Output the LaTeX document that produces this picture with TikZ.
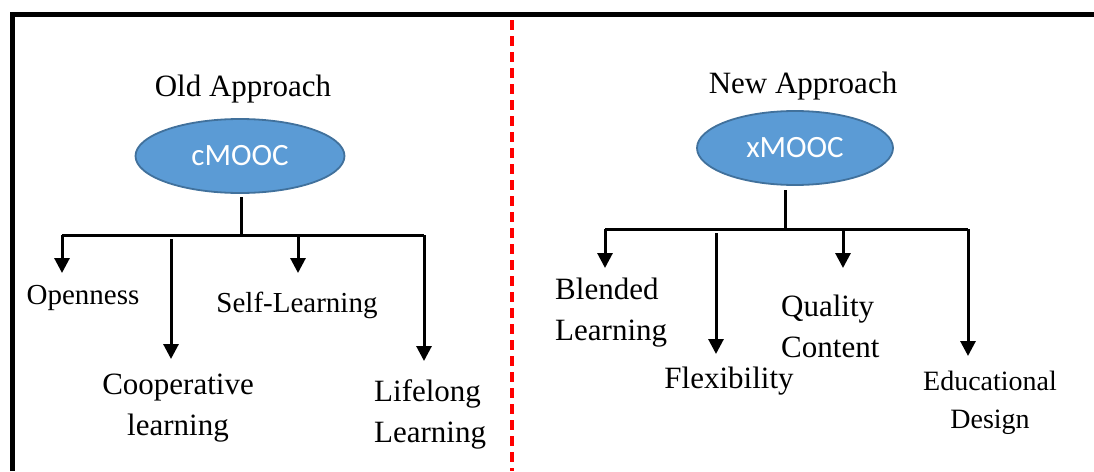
\documentclass[tikz,border=0pt]{standalone}
\usepackage{fontspec}
\setmainfont{Liberation Serif}
\newfontfamily\calibrifont{Carlito}
\usetikzlibrary{arrows.meta,shapes.geometric}
\definecolor{ellfill}{HTML}{5B9BD5}
\definecolor{elldraw}{HTML}{41719C}
\tikzset{
  mooc/.style={ellipse, fill=ellfill, draw=elldraw, line width=1.8pt, inner sep=0pt,
    text=white, font=\calibrifont\fontsize{31}{33}\selectfont},
  lbl/.style={inner sep=0pt, font=\fontsize{31}{41}\selectfont},
  lblsmall/.style={inner sep=0pt, font=\fontsize{29}{38}\selectfont},
  conn/.style={line width=3pt},
  arr/.style={line width=3pt, -{Triangle[length=15pt,width=15pt]}},
}
\begin{document}
\begin{tikzpicture}[x=1pt,y=-1pt]
\useasboundingbox (0,0) rectangle (1094,471);
% border
\draw[line width=5.5pt] (12.5,471) -- (12.5,14.5) -- (1094,14.5);
% red dashed divider
\draw[red, line width=3.5pt, dash pattern=on 10pt off 6pt] (512,20) -- (512,471);

% ---- Left side ----
\node[lbl, font=\fontsize{31}{36}\selectfont] (oldt) at (243,89) {Old Approach};
\node[mooc, minimum width=209pt, minimum height=74pt] (cm) at (240,156) {cMOOC};
\coordinate (cj) at (241,235);
\coordinate (cl) at (62,235);
\coordinate (cr) at (424,235);
\coordinate (c3) at (298,235);
\coordinate (c2s) at (171,239);
\draw[conn] (241,197) -- (cj);
\draw[conn] (cl) -- (cr);
\node[lblsmall] (open) at (83,298) {Openness};
\node[lbl, align=center] (coop) at (178,408) {Cooperative\\learning};
\node[lblsmall] (self) at (297,305) {Self-Learning};
\node[lbl, align=left, anchor=west] (life) at (374,414) {Lifelong\\Learning};
\coordinate (e1) at (62,273);
\coordinate (e2) at (171,359);
\coordinate (e3) at (298,273);
\coordinate (e4) at (424,361);
\draw[arr] (cl) -- (e1);
\draw[arr] (c2s) -- (e2);
\draw[arr] (c3) -- (e3);
\draw[arr] (cr) -- (e4);

% ---- Right side ----
\node[lbl] (newt) at (803,86) {New Approach};
\node[mooc, minimum width=196pt, minimum height=74pt] (xm) at (795,148) {xMOOC};
\coordinate (xj) at (785,229);
\coordinate (xl) at (605,229);
\coordinate (xr) at (968,229);
\coordinate (x3) at (843,229);
\coordinate (x2s) at (716,233);
\draw[conn] (785,190) -- (xj);
\draw[conn] (xl) -- (xr);
\node[lbl, align=left, anchor=west] (blend) at (555,313) {Blended\\Learning};
\node[lbl] (flex) at (729,381) {Flexibility};
\node[lbl, align=left, anchor=west] (qual) at (781,326) {Quality\\Content};
\node[inner sep=0pt, align=center, font=\fontsize{28}{38}\selectfont] (edu) at (990,403) {Educational\\Design};
\coordinate (f1) at (605,268);
\coordinate (f2) at (716,354);
\coordinate (f3) at (843,268);
\coordinate (f4) at (968,356);
\draw[arr] (xl) -- (f1);
\draw[arr] (x2s) -- (f2);
\draw[arr] (x3) -- (f3);
\draw[arr] (xr) -- (f4);
\end{tikzpicture}
\end{document}
